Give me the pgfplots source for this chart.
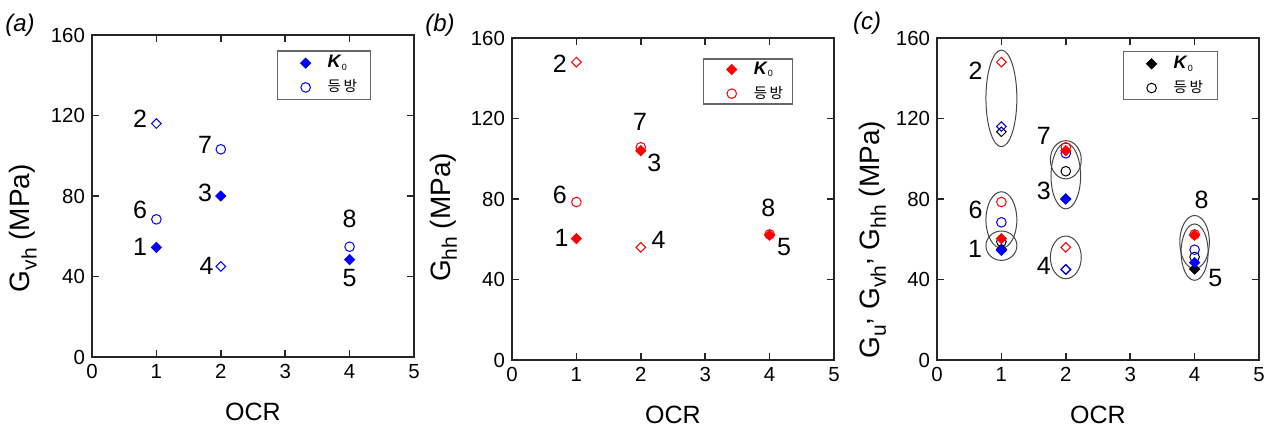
\documentclass[border=0pt]{standalone}
\usepackage{pgfplots}
\pgfplotsset{compat=1.18}
\usepackage{fontspec}
\setmainfont{Liberation Sans}
\newfontfamily\kr{Noto Sans CJK KR}

\definecolor{mblue}{RGB}{0,0,255}
\definecolor{mred}{RGB}{255,0,0}
\definecolor{mblk}{RGB}{0,0,0}
\definecolor{ellc}{RGB}{70,70,70}

\newcommand{\numfont}{\fontsize{12.5}{13}\selectfont}
\newcommand{\Kzero}{{\fontsize{9}{9}\selectfont\textbf{\textit{K}}\raisebox{-0.3ex}{\fontsize{4.5}{5}\selectfont 0}}}
\newcommand{\iso}{{\kr\fontsize{7.3}{8}\selectfont 등\hspace{1.2pt}방}}
\newcommand{\sub}[1]{\raisebox{-0.45ex}{\fontsize{10.5}{11}\selectfont #1}}

\tikzset{legbox/.style={draw=black!60, line width=0.6pt}}

\pgfplotsset{
 myaxis/.style={
  width=161pt, height=161pt, scale only axis,
  xmin=0, xmax=5, ymin=0, ymax=160,
  xtick={0,1,2,3,4,5}, ytick={0,40,80,120,160},
  tick align=inside, tick pos=both, major tick length=3.5pt,
  axis line style={line width=0.75pt, black!85},
  every tick/.style={line width=0.75pt, black!85},
  ticklabel style={font=\fontsize{10.2}{11}\selectfont},
  /pgf/number format/assume math mode=true,
  clip=false,
  xlabel style={font=\fontsize{12.5}{14}\selectfont},
  ylabel style={font=\fontsize{14}{16}\selectfont},
  xlabel={OCR},
  xlabel style={at={(axis description cs:0.5,-0.171)}, anchor=center},
  legend cell align=left,
  legend style={draw=none, fill=none, anchor=west,
    inner xsep=0pt, inner ysep=0pt, row sep=0.5pt,
    font=\fontsize{7}{8}\selectfont,
    /tikz/every odd column/.append style={column sep=6.5pt}},
 },
 Kd/.style={only marks, mark=square*, mark size=1.8pt, mark options={rotate=45, fill=#1, draw=#1, line width=0.4pt}},
 Od/.style={only marks, mark=square, mark size=1.7pt, mark options={rotate=45, draw=#1, line width=0.5pt}},
 Oc/.style={only marks, mark=o, mark size=2.4pt, mark options={draw=#1, line width=0.5pt}},
}

\begin{document}
\begin{tikzpicture}
\useasboundingbox (0,0) rectangle (636.5pt,214pt);

% ---------------- (a) ----------------
\begin{axis}[myaxis, at={(46pt,35.5pt)}, anchor=south west,
  ylabel={G\sub{vh} (MPa)},
  ylabel style={at={(axis description cs:-0.214,0.40)}, anchor=center},
  legend style={at={(0.6464,0.875)}}]
\draw[legbox] (rel axis cs:0.575,0.80) rectangle (rel axis cs:0.866,0.95);
\addplot[Kd=mblue] coordinates {(1,54.5) (2,80) (4,48.4)};
\addlegendentry{\Kzero}
\addplot[Oc=mblue] coordinates {(1,68.4) (2,103.2) (4,54.8)};
\addlegendentry{\iso}
\addplot[Od=mblue, forget plot] coordinates {(1,116) (2,45)};
\node[font=\numfont] at (axis cs:0.745,54.8) {1};
\node[font=\numfont] at (axis cs:0.745,118.6) {2};
\node[font=\numfont] at (axis cs:1.755,81.6) {3};
\node[font=\numfont] at (axis cs:1.78,45.5) {4};
\node[font=\numfont] at (axis cs:4.0,39.2) {5};
\node[font=\numfont] at (axis cs:0.745,72.9) {6};
\node[font=\numfont] at (axis cs:1.755,105.3) {7};
\node[font=\numfont] at (axis cs:4.0,68.8) {8};
\end{axis}

% ---------------- (b) ----------------
\begin{axis}[myaxis, at={(256pt,34pt)}, anchor=south west,
  ylabel={G\sub{hh} (MPa)},
  ylabel style={at={(axis description cs:-0.213,0.443)}, anchor=center},
  legend style={at={(0.6654,0.865)}}]
\draw[legbox] (rel axis cs:0.594,0.795) rectangle (rel axis cs:0.870,0.935);
\addplot[Kd=mred] coordinates {(1,60.3) (2,104) (4,62)};
\addlegendentry{\Kzero}
\addplot[Oc=mred] coordinates {(1,78.5) (2,105.7) (4,62.4)};
\addlegendentry{\iso}
\addplot[Od=mred, forget plot] coordinates {(1,148) (2,56)};
\node[font=\numfont] at (axis cs:0.77,60.5) {1};
\node[font=\numfont] at (axis cs:0.743,147.4) {2};
\node[font=\numfont] at (axis cs:2.21,97.7) {3};
\node[font=\numfont] at (axis cs:2.275,59.6) {4};
\node[font=\numfont] at (axis cs:4.225,56) {5};
\node[font=\numfont] at (axis cs:0.743,82) {6};
\node[font=\numfont] at (axis cs:1.99,118.4) {7};
\node[font=\numfont] at (axis cs:3.98,75.4) {8};
\end{axis}

% ---------------- (c) ----------------
\begin{axis}[myaxis, at={(468.5pt,34pt)}, anchor=south west,
  ylabel={G\sub{u}\raisebox{0.6ex}{,} G\sub{vh}\raisebox{0.6ex}{,} G\sub{hh} (MPa)},
  ylabel style={at={(axis description cs:-0.2,0.373)}, anchor=center},
  legend style={at={(0.6494,0.8825)}}]
\draw[legbox] (rel axis cs:0.578,0.808) rectangle (rel axis cs:0.870,0.957);
\addplot[Kd=mblk] coordinates {(1,55) (2,80) (4,45.2)};
\addlegendentry{\Kzero}
\addplot[Oc=mblk] coordinates {(1,58.8) (2,93.8) (4,51.2)};
\addlegendentry{\iso}
\addplot[Od=mblk, forget plot] coordinates {(1,113.4) (2,45)};
\addplot[Kd=mblue, forget plot] coordinates {(1,54.5) (2,80) (4,48.4)};
\addplot[Oc=mblue, forget plot] coordinates {(1,68.4) (2,102.7) (4,54.8)};
\addplot[Od=mblue, forget plot] coordinates {(1,116) (2,45)};
\addplot[Kd=mred, forget plot] coordinates {(1,60.3) (2,104) (4,62)};
\addplot[Oc=mred, forget plot] coordinates {(1,78.5) (2,105.7) (4,62.4)};
\addplot[Od=mred, forget plot] coordinates {(1,148) (2,56)};
\draw[ellc, line width=0.5pt] (axis cs:1,130) ellipse [x radius=0.24, y radius=24];
\draw[ellc, line width=0.5pt] (axis cs:1,69.6) ellipse [x radius=0.24, y radius=14];
\draw[ellc, line width=0.5pt] (axis cs:1,56.8) ellipse [x radius=0.24, y radius=7.3];
\draw[ellc, line width=0.5pt] (axis cs:2,99.5) ellipse [x radius=0.24, y radius=9.5];
\draw[ellc, line width=0.5pt] (axis cs:2,91.4) ellipse [x radius=0.23, y radius=16.3];
\draw[ellc, line width=0.5pt] (axis cs:2,51) ellipse [x radius=0.24, y radius=10.6];
\draw[ellc, line width=0.5pt] (axis cs:4,58.6) ellipse [x radius=0.23, y radius=13.2];
\draw[ellc, line width=0.5pt] (axis cs:4,53.6) ellipse [x radius=0.21, y radius=14];
\node[font=\numfont] at (axis cs:0.59,55.3) {1};
\node[font=\numfont] at (axis cs:0.6,143.6) {2};
\node[font=\numfont] at (axis cs:1.66,84.2) {3};
\node[font=\numfont] at (axis cs:1.66,47) {4};
\node[font=\numfont] at (axis cs:4.32,40.5) {5};
\node[font=\numfont] at (axis cs:0.6,74.6) {6};
\node[font=\numfont] at (axis cs:1.66,111.4) {7};
\node[font=\numfont] at (axis cs:4.11,79.7) {8};
\end{axis}

\node[font=\fontsize{12}{14}\selectfont\itshape] at (10pt,201.5pt) {(a)};
\node[font=\fontsize{12}{14}\selectfont\itshape] at (220pt,201.5pt) {(b)};
\node[font=\fontsize{12}{14}\selectfont\itshape] at (433.5pt,202.5pt) {(c)};
\end{tikzpicture}
\end{document}
